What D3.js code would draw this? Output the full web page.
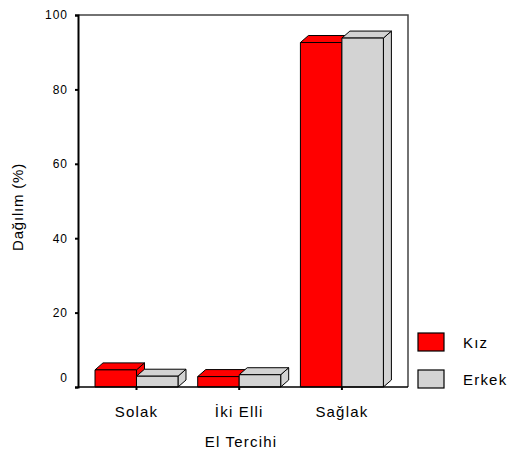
<!DOCTYPE html>
<html>
<head>
<meta charset="utf-8">
<script src="https://cdn.jsdelivr.net/npm/d3@7"></script>
<style>
  html, body { margin: 0; padding: 0; background: #fff; }
  svg { display: block; font-family: Arial, "Liberation Sans", sans-serif; }
</style>
</head>
<body>
<svg id="chart" width="508" height="455"></svg>
<script>
// Hand preference distribution by sex (%)
const categories = ["Solak", "İki Elli", "Sağlak"];
const seriesNames = ["Kız", "Erkek"];
const kizValues = [4.6, 2.8, 92.6];
const erkekValues = [2.9, 3.3, 93.8];
const yTicks = [0, 20, 40, 60, 80, 100];
const seriesColors = ["#ff0000", "#d3d3d3"];

const seriesValues = [kizValues, erkekValues];

const svg = d3.select("#chart");

const plot = { left: 78, right: 408, top: 15, bottom: 387 };
const depthX = 8, depthY = 7;

const y = d3.scaleLinear().domain([0, 100]).range([plot.bottom, plot.top]);
const x = d3.scaleBand().domain(categories).range([95, 383.4]).paddingInner(0.192).paddingOuter(0);
const xs = d3.scaleBand().domain(seriesNames).range([0, x.bandwidth()]).padding(0);

// Plot frame (top and right edges)
svg.append("path")
  .attr("d", `M${plot.left},${plot.top}H${plot.right}V${plot.bottom}`)
  .attr("fill", "none").attr("stroke", "#444").attr("stroke-width", 1.5);

// 3D bars: front face, top face and side face, drawn series by series
const bars = svg.append("g");
categories.forEach((cat, ci) => {
  seriesNames.forEach((s, si) => {
    const v = seriesValues[si][ci];
    const x0 = x(cat) + xs(s);
    const w = xs.bandwidth();
    const yv = y(v);
    const yb = y(0);
    const g = bars.append("g")
      .attr("fill", seriesColors[si])
      .attr("stroke", "#000").attr("stroke-width", 1)
      .attr("stroke-linejoin", "round");
    g.append("path").attr("d",
      `M${x0 + w},${yv}L${x0 + w + depthX},${yv - depthY}L${x0 + w + depthX},${yb - depthY}L${x0 + w},${yb}Z`);
    g.append("path").attr("d",
      `M${x0},${yv}L${x0 + depthX},${yv - depthY}L${x0 + w + depthX},${yv - depthY}L${x0 + w},${yv}Z`);
    g.append("rect").attr("x", x0).attr("y", yv).attr("width", w).attr("height", yb - yv);
  });
});

// Y axis
const yAxis = d3.axisLeft(y).tickValues(yTicks).tickSize(3).tickPadding(7).tickFormat(d3.format("d"));
const yg = svg.append("g").attr("transform", `translate(${plot.left},0)`).call(yAxis);
yg.select(".domain").attr("stroke", "#000").attr("stroke-width", 2);
yg.selectAll(".tick line").attr("stroke", "#000").attr("stroke-width", 2);
yg.selectAll(".tick text")
  .attr("font-size", 12).attr("fill", "#000")
  .style("letter-spacing", "1px")
  .attr("dy", d => d === 0 ? "-0.42em" : "0.32em");

// X axis
const xAxis = d3.axisBottom(x.copy().paddingInner(0.192)).tickSize(3).tickPadding(16);
const xg = svg.append("g").attr("transform", `translate(0,${plot.bottom})`).call(xAxis);
xg.select(".domain").remove();
xg.append("line").attr("x1", plot.left).attr("x2", plot.right)
  .attr("stroke", "#000").attr("stroke-width", 1.5);
xg.selectAll(".tick line").attr("stroke", "#000").attr("stroke-width", 2);
xg.selectAll(".tick text")
  .attr("font-size", 15).attr("fill", "#000")
  .style("letter-spacing", "1.2px");

// Axis titles
svg.append("text")
  .attr("x", (plot.left + plot.right) / 2 - 2).attr("y", 447)
  .attr("text-anchor", "middle").attr("font-size", 15)
  .style("letter-spacing", "1.2px")
  .text("El Tercihi");

svg.append("text")
  .attr("transform", `translate(23,${(plot.top + plot.bottom) / 2 + 6}) rotate(-90)`)
  .attr("text-anchor", "middle").attr("font-size", 15)
  .style("letter-spacing", "0.8px")
  .text("Dağılım (%)");

// Legend
const legend = svg.append("g").attr("transform", "translate(418,333)");
seriesNames.forEach((s, i) => {
  const g = legend.append("g").attr("transform", `translate(0,${i * 37})`);
  g.append("rect").attr("width", 26).attr("height", 18)
    .attr("fill", seriesColors[i]).attr("stroke", "#000").attr("stroke-width", 1.2);
  g.append("text").attr("x", 45).attr("y", 9).attr("dy", "0.4em")
    .attr("font-size", 15).style("letter-spacing", "1.2px")
    .text(s);
});
</script>
</body>
</html>
